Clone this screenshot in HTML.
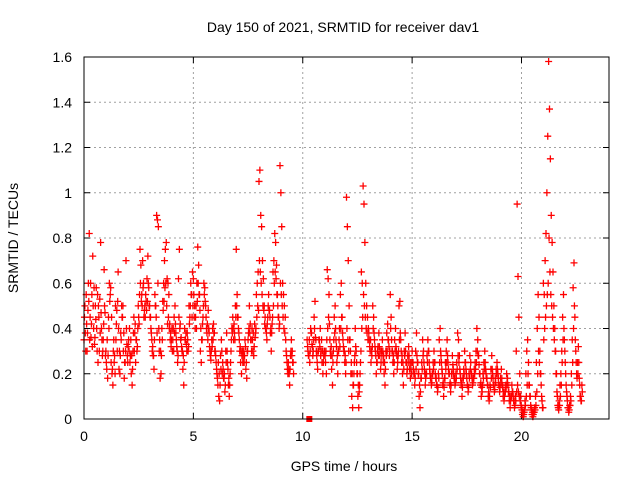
<!DOCTYPE html>
<html><head><meta charset="utf-8"><style>
body{margin:0;background:#fff}
svg{display:block;font-family:"Liberation Sans",sans-serif}
</style></head><body>
<svg id="chart" width="640" height="480">
<text x="343" y="32" font-size="14" text-anchor="middle">Day 150 of 2021, SRMTID for receiver dav1</text>
<text x="344" y="471" font-size="14" text-anchor="middle">GPS time / hours</text>
<text transform="translate(18,238) rotate(-90)" font-size="14" text-anchor="middle">SRMTID / TECUs</text>
<g id="grid"></g><g id="ticks"></g><g id="marks"></g>
<rect x="84" y="57" width="525" height="362" fill="none" stroke="#000" stroke-width="1"/>
</svg>
<script>
const xTicks=[0,5,10,15,20];
const yTicks=[0,0.2,0.4,0.6,0.8,1,1.2,1.4,1.6];
const yTickLabels=["0","0.2","0.4","0.6","0.8","1","1.2","1.4","1.6"];
const seg1Start=0, seg2Start=10.2, stepHours=0.04, seriesBOffset=0.02;
const seg1Values=[0.35,0.5,0.3,0.42,0.38,0.6,0.82,0.45,0.36,0.55,0.72,0.4,0.33,0.5,0.58,0.3,0.25,0.45,0.53,0.78,0.4,0.28,0.35,0.66,0.47,
0.3,0.22,0.18,0.45,0.6,0.55,0.25,0.2,0.15,0.35,0.28,0.5,0.42,0.3,0.65,0.22,0.2,0.38,0.5,0.45,0.3,0.18,0.25,0.7,0.33,
0.25,0.35,0.4,0.28,0.2,0.15,0.3,0.45,0.38,0.25,0.35,0.32,0.5,0.42,0.75,0.68,0.55,0.7,0.6,0.48,0.45,0.52,0.62,0.72,0.58,
0.5,0.45,0.38,0.3,0.28,0.22,0.55,0.5,0.9,0.88,0.85,0.3,0.18,0.2,0.4,0.52,0.6,0.7,0.75,0.78,0.62,0.6,0.55,0.42,0.38,
0.35,0.3,0.4,0.45,0.5,0.38,0.32,0.25,0.62,0.75,0.42,0.36,0.3,0.22,0.15,0.4,0.35,0.33,0.38,0.3,0.5,0.45,0.6,0.55,0.65,
0.62,0.45,0.4,0.5,0.6,0.76,0.68,0.55,0.3,0.25,0.35,0.45,0.6,0.58,0.5,0.4,0.42,0.48,0.38,0.3,0.26,0.35,0.4,0.42,0.38,
0.3,0.25,0.2,0.15,0.1,0.08,0.28,0.35,0.2,0.22,0.18,0.12,0.3,0.38,0.25,0.15,0.1,0.2,0.3,0.4,0.45,0.35,0.38,0.5,0.75,
0.55,0.45,0.38,0.3,0.25,0.2,0.3,0.28,0.25,0.35,0.22,0.18,0.3,0.38,0.5,0.42,0.35,0.4,0.3,0.28,0.42,0.38,0.55,0.6,0.65,
1.05,1.1,0.9,0.85,0.7,0.62,0.5,0.45,0.4,0.35,0.45,0.55,0.48,0.38,0.3,0.42,0.65,0.7,0.82,0.78,0.68,0.55,0.45,0.4,1.12,
1.0,0.85,0.6,0.55,0.5,0.45,0.3,0.25,0.2,0.22,0.15,0.28,0.35,0.3,0.25];
const seg2Values=[0.35,0.3,0.28,0.25,0.4,0.38,0.32,0.3,0.45,0.52,0.35,0.28,0.22,0.3,0.35,0.4,0.3,0.25,0.2,0.28,
0.3,0.25,0.2,0.66,0.62,0.55,0.35,0.28,0.22,0.15,0.3,0.45,0.5,0.35,0.25,0.2,0.3,0.4,0.55,0.6,0.45,0.35,0.3,0.25,0.2,
0.98,0.85,0.7,0.5,0.35,0.2,0.1,0.05,0.15,0.25,0.4,0.3,0.2,0.1,0.05,0.15,0.25,0.65,0.6,1.03,0.95,0.78,0.6,0.5,0.45,
0.4,0.35,0.3,0.25,0.28,0.5,0.45,0.35,0.3,0.2,0.25,0.32,0.38,0.28,0.22,0.3,0.35,0.25,0.2,0.15,0.3,0.38,0.42,0.35,0.28,
0.55,0.45,0.3,0.25,0.2,0.35,0.4,0.3,0.22,0.28,0.5,0.52,0.35,0.25,0.2,0.15,0.3,0.38,0.25,0.2,0.28,0.32,0.22,0.18,0.25,
0.3,0.25,0.2,0.15,0.3,0.38,0.25,0.2,0.1,0.05,0.18,0.25,0.35,0.3,0.22,0.15,0.2,0.28,0.35,0.3,0.22,0.18,0.15,0.2,0.25,
0.3,0.25,0.18,0.15,0.12,0.2,0.35,0.4,0.28,0.22,0.15,0.1,0.18,0.25,0.3,0.35,0.25,0.2,0.15,0.12,0.2,0.28,0.22,0.18,0.15,
0.2,0.25,0.38,0.35,0.28,0.2,0.15,0.1,0.18,0.22,0.3,0.25,0.2,0.15,0.12,0.2,0.28,0.25,0.2,0.15,0.18,0.22,0.25,0.3,0.4,
0.35,0.28,0.2,0.15,0.1,0.12,0.2,0.25,0.3,0.22,0.18,0.15,0.1,0.08,0.15,0.22,0.28,0.2,0.15,0.12,0.18,0.22,0.25,0.2,0.15,
0.12,0.18,0.22,0.15,0.1,0.08,0.12,0.15,0.2,0.18,0.12,0.08,0.05,0.1,0.15,0.12,0.08,0.05,0.1,0.3,0.95,0.63,0.45,0.2,0.1,
0.05,0.02,0.01,0.03,0.08,0.2,0.3,0.35,0.25,0.15,0.1,0.05,0.02,0.01,0.03,0.05,0.1,0.25,0.4,0.55,0.45,0.3,0.2,0.1,0.05,
0.6,0.55,0.7,0.82,1.0,1.25,1.58,1.37,1.15,0.9,0.78,0.65,0.5,0.4,0.3,0.2,0.1,0.05,0.08,0.15,0.2,0.3,0.45,0.55,0.35,
0.25,0.15,0.1,0.05,0.03,0.06,0.1,0.2,0.35,0.58,0.69,0.45,0.3,0.2,0.25,0.32,0.18,0.1,0.08,0.15];
const seg1ValuesB=[0.45,0.38,0.55,0.3,0.48,0.52,0.35,0.6,0.42,0.32,0.5,0.58,0.36,0.44,0.4,0.55,0.5,0.3,0.38,0.47,0.35,0.3,0.42,0.5,0.28,
0.25,0.35,0.28,0.4,0.52,0.58,0.45,0.22,0.3,0.25,0.2,0.35,0.48,0.52,0.4,0.3,0.28,0.35,0.45,0.5,0.38,0.25,0.3,0.4,0.28,
0.32,0.3,0.25,0.35,0.28,0.22,0.38,0.3,0.42,0.35,0.3,0.4,0.45,0.55,0.6,0.52,0.5,0.58,0.45,0.5,0.55,0.48,0.52,0.6,0.5,
0.45,0.4,0.35,0.32,0.28,0.35,0.5,0.45,0.38,0.6,0.4,0.35,0.3,0.28,0.35,0.48,0.52,0.58,0.6,0.5,0.42,0.45,0.4,0.35,0.32,
0.4,0.35,0.3,0.38,0.42,0.35,0.3,0.28,0.45,0.4,0.35,0.32,0.3,0.28,0.25,0.35,0.38,0.3,0.35,0.32,0.42,0.5,0.55,0.45,0.5,
0.55,0.5,0.45,0.4,0.52,0.6,0.55,0.48,0.4,0.35,0.42,0.5,0.55,0.52,0.45,0.38,0.35,0.4,0.32,0.28,0.3,0.32,0.35,0.38,0.3,
0.28,0.22,0.18,0.25,0.2,0.15,0.22,0.3,0.25,0.18,0.2,0.15,0.25,0.3,0.22,0.18,0.15,0.25,0.35,0.38,0.4,0.42,0.35,0.45,0.5,
0.45,0.4,0.35,0.32,0.3,0.28,0.25,0.3,0.28,0.32,0.25,0.3,0.35,0.4,0.38,0.35,0.3,0.35,0.38,0.32,0.36,0.4,0.45,0.5,0.48,
0.7,0.65,0.6,0.55,0.5,0.48,0.42,0.4,0.38,0.42,0.5,0.48,0.45,0.4,0.38,0.45,0.5,0.6,0.65,0.62,0.55,0.5,0.45,0.42,0.6,
0.55,0.5,0.45,0.4,0.38,0.35,0.28,0.22,0.25,0.2,0.22,0.3,0.28,0.25,0.2];
const seg2ValuesB=[0.32,0.28,0.35,0.3,0.38,0.33,0.28,0.35,0.4,0.36,0.3,0.25,0.3,0.35,0.32,0.28,0.35,0.3,0.25,0.3,
0.28,0.3,0.35,0.4,0.45,0.42,0.3,0.32,0.28,0.25,0.35,0.38,0.4,0.32,0.28,0.3,0.35,0.32,0.4,0.45,0.38,0.32,0.3,0.28,0.25,
0.4,0.35,0.3,0.35,0.3,0.25,0.2,0.15,0.2,0.28,0.32,0.25,0.2,0.15,0.12,0.2,0.3,0.4,0.45,0.55,0.5,0.45,0.4,0.38,0.35,
0.38,0.32,0.35,0.3,0.32,0.4,0.38,0.32,0.28,0.25,0.3,0.28,0.32,0.3,0.25,0.28,0.3,0.28,0.25,0.22,0.28,0.3,0.35,0.32,0.3,
0.4,0.35,0.3,0.28,0.25,0.3,0.32,0.28,0.25,0.3,0.35,0.38,0.3,0.28,0.25,0.22,0.28,0.3,0.25,0.22,0.25,0.28,0.25,0.22,0.2,
0.25,0.22,0.2,0.18,0.22,0.28,0.25,0.2,0.15,0.12,0.18,0.22,0.28,0.25,0.2,0.18,0.2,0.25,0.3,0.25,0.2,0.18,0.16,0.2,0.22,
0.25,0.2,0.18,0.15,0.14,0.18,0.25,0.3,0.25,0.2,0.16,0.14,0.18,0.22,0.25,0.28,0.22,0.2,0.16,0.15,0.2,0.24,0.2,0.18,0.16,
0.18,0.22,0.28,0.25,0.22,0.18,0.16,0.14,0.18,0.2,0.25,0.22,0.18,0.15,0.14,0.18,0.22,0.2,0.18,0.16,0.18,0.2,0.22,0.25,0.3,
0.28,0.24,0.2,0.16,0.14,0.15,0.18,0.22,0.25,0.2,0.18,0.15,0.12,0.1,0.14,0.18,0.22,0.18,0.15,0.13,0.16,0.2,0.22,0.18,0.15,
0.14,0.16,0.18,0.14,0.12,0.1,0.12,0.14,0.16,0.15,0.12,0.1,0.08,0.1,0.12,0.1,0.08,0.06,0.08,0.12,0.15,0.12,0.1,0.08,0.06,
0.04,0.03,0.02,0.04,0.06,0.1,0.15,0.2,0.15,0.1,0.06,0.04,0.03,0.02,0.03,0.04,0.06,0.12,0.2,0.3,0.25,0.2,0.15,0.08,0.05,
0.35,0.4,0.45,0.5,0.55,0.6,0.8,0.65,0.55,0.5,0.45,0.4,0.35,0.3,0.2,0.12,0.06,0.04,0.06,0.1,0.15,0.25,0.35,0.4,0.3,
0.2,0.12,0.08,0.05,0.04,0.06,0.08,0.15,0.25,0.4,0.5,0.35,0.25,0.18,0.2,0.25,0.15,0.1,0.08,0.12];
const gapMarkerX=10.3, gapMarkerY=0;

const NS="http://www.w3.org/2000/svg";
const L=84,R=609,T=57,B=419,XMAX=24,YMAX=1.6;
const xs=v=>L+v/XMAX*(R-L);
const ys=v=>B-v/YMAX*(B-T);
function mk(tag,attrs,parent){const e=document.createElementNS(NS,tag);for(const k in attrs)e.setAttribute(k,attrs[k]);parent.appendChild(e);return e;}
const grid=document.getElementById('grid'),ticks=document.getElementById('ticks'),marks=document.getElementById('marks');
xTicks.forEach(v=>{
  const x=xs(v);
  if(v>0){const g=mk('line',{x1:x,x2:x,y1:T,y2:B,stroke:'#a0a0a0','stroke-dasharray':'2,3'},grid);
  
  }
  mk('line',{x1:x,x2:x,y1:B,y2:B-6,stroke:'#000'},ticks);
  mk('line',{x1:x,x2:x,y1:T,y2:T+6,stroke:'#000'},ticks);
  const t=mk('text',{x:x,y:B+22,'font-size':14,'text-anchor':'middle'},ticks);t.textContent=v;
  
  
});
yTicks.forEach((v,i)=>{
  const y=ys(v);
  if(v>0&&v<YMAX){const g=mk('line',{x1:L,x2:R,y1:y,y2:y,stroke:'#a0a0a0','stroke-dasharray':'2,3'},grid);
  
  }
  mk('line',{x1:L,x2:L+6,y1:y,y2:y,stroke:'#000'},ticks);
  mk('line',{x1:R,x2:R-6,y1:y,y2:y,stroke:'#000'},ticks);
  const t=mk('text',{x:L-12,y:y+5,'font-size':14,'text-anchor':'end'},ticks);t.textContent=yTickLabels[i];
  
  
});
function cross(hx,val){
  const x=xs(hx),y=ys(val);
  const p=mk('path',{d:`M${x-3.5},${y}H${x+3.5}M${x},${y-3.5}V${y+3.5}`,stroke:'#ff0000','stroke-width':1.3,fill:'none'},marks);
  
  
}
seg1Values.forEach((v,i)=>cross(seg1Start+i*stepHours,v));
seg2Values.forEach((v,i)=>cross(seg2Start+i*stepHours,v));
seg1ValuesB.forEach((v,i)=>cross(seg1Start+seriesBOffset+i*stepHours,v));
seg2ValuesB.forEach((v,i)=>cross(seg2Start+seriesBOffset+i*stepHours,v));
const sq=mk('rect',{x:xs(gapMarkerX)-3,y:ys(gapMarkerY)-3,width:6,height:6,fill:'#ff0000'},marks);


</script>
</body></html>
